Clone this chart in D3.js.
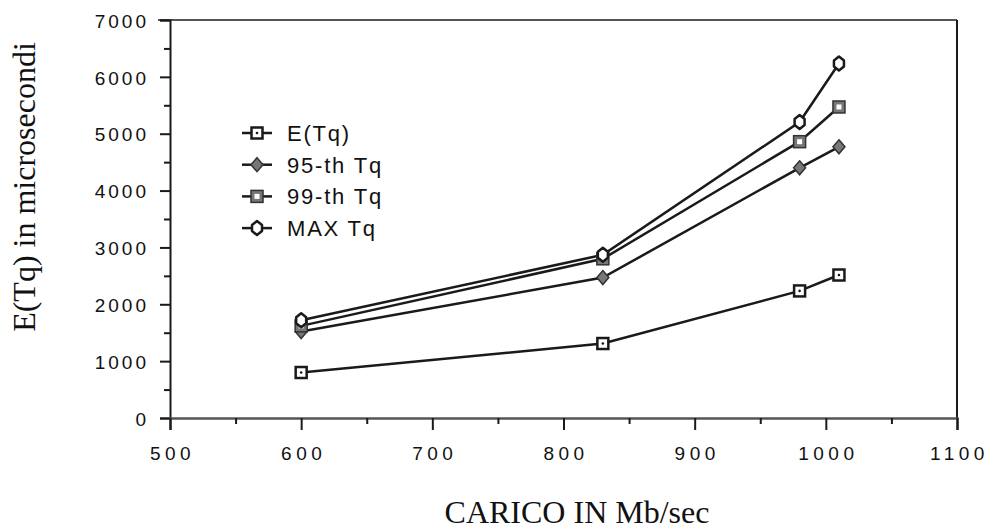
<!DOCTYPE html>
<html>
<head>
<meta charset="utf-8">
<script src="https://cdn.jsdelivr.net/npm/d3@7"></script>
<style>
  body { margin: 0; background: #fff; }
  svg { display: block; }
  .tick text { font-family: "Liberation Sans", Arial, sans-serif; font-size: 19px; fill: #111; }
  .ttl { font-family: "Liberation Serif", "Times New Roman", serif; font-size: 32px; fill: #111; }
  .leg text { font-family: "Liberation Sans", Arial, sans-serif; font-size: 22px; letter-spacing: 1.8px; fill: #111; }
</style>
</head>
<body>
<svg id="chart" width="994" height="531"></svg>
<script>
// data
var carico = [600, 830, 980, 1010];
var eTq = [800, 1310, 2235, 2515];
var p95Tq = [1520, 2470, 4400, 4770];
var p99Tq = [1620, 2800, 4860, 5470];
var maxTq = [1720, 2870, 5205, 6235];

var seriesNames = ["E(Tq)", "95-th Tq", "99-th Tq", "MAX Tq"];
var xTicks = [500, 600, 700, 800, 900, 1000, 1100];
var xMinor = [550, 650, 750, 850, 950, 1050];
var yTicks = [0, 1000, 2000, 3000, 4000, 5000, 6000, 7000];
var yMinor = [500, 1500, 2500, 3500, 4500, 5500, 6500];

var svg = d3.select("#chart");
var plotL = 170, plotR = 957, plotT = 20, plotB = 418;

var x = d3.scaleLinear().domain([500, 1100]).range([plotL, plotR]);
var y = d3.scaleLinear().domain([0, 7000]).range([plotB, plotT]);

var ink = "#1a1a1a";

// frame: top and right lines
svg.append("line").attr("x1", plotL - 12).attr("x2", plotR).attr("y1", plotT).attr("y2", plotT)
    .attr("stroke", "#555").attr("stroke-width", 2);
svg.append("line").attr("x1", plotR).attr("x2", plotR).attr("y1", plotT).attr("y2", plotB)
    .attr("stroke", ink).attr("stroke-width", 2);

// y axis
var yAxis = svg.append("g").attr("transform", "translate(" + plotL + ",0)")
    .call(d3.axisLeft(y).tickValues(yTicks).tickSize(10).tickPadding(11).tickFormat(d3.format("d")));
yAxis.select(".domain").attr("stroke", ink).attr("stroke-width", 2);
yAxis.selectAll(".tick line").attr("stroke", ink).attr("stroke-width", 2);
yAxis.selectAll(".tick text").attr("letter-spacing", "3px").attr("dy", "0.38em");

var yAxisMinor = svg.append("g").attr("transform", "translate(" + plotL + ",0)")
    .call(d3.axisLeft(y).tickValues(yMinor).tickSize(6).tickFormat(""));
yAxisMinor.select(".domain").remove();
yAxisMinor.selectAll(".tick line").attr("stroke", ink).attr("stroke-width", 2);

// x axis
var xAxis = svg.append("g").attr("transform", "translate(0," + plotB + ")")
    .call(d3.axisBottom(x).tickValues(xTicks).tickSize(12).tickPadding(17).tickFormat(d3.format("d")));
xAxis.select(".domain").attr("stroke", "#555").attr("stroke-width", 2.5);
xAxis.selectAll(".tick line").attr("stroke", ink).attr("stroke-width", 2);
xAxis.selectAll(".tick text").attr("letter-spacing", "4.5px").attr("dx", "2px");

var xAxisMinor = svg.append("g").attr("transform", "translate(0," + plotB + ")")
    .call(d3.axisBottom(x).tickValues(xMinor).tickSize(6).tickFormat(""));
xAxisMinor.select(".domain").remove();
xAxisMinor.selectAll(".tick line").attr("stroke", ink).attr("stroke-width", 2);

// titles
svg.append("text").attr("class", "ttl")
    .attr("transform", "translate(35,187) rotate(-90)")
    .attr("text-anchor", "middle")
    .text("E(Tq) in microsecondi");
svg.append("text").attr("class", "ttl")
    .attr("x", 577).attr("y", 523)
    .attr("text-anchor", "middle")
    .text("CARICO IN Mb/sec");

// marker drawing
function marker(g, kind) {
    if (kind == 0) {
        g.append("rect").attr("x", -5.5).attr("y", -5.5).attr("width", 11).attr("height", 11)
            .attr("fill", "#fff").attr("stroke", ink).attr("stroke-width", 2.5);
        g.append("circle").attr("r", 1.3).attr("fill", ink);
    } else if (kind == 1) {
        g.append("path").attr("d", "M0,-7L6,0L0,7L-6,0Z")
            .attr("fill", "#777").attr("stroke", "#333").attr("stroke-width", 1.5);
    } else if (kind == 2) {
        g.append("rect").attr("x", -6).attr("y", -6).attr("width", 12).attr("height", 12)
            .attr("fill", "#777").attr("stroke", "#333").attr("stroke-width", 1.5);
        g.append("rect").attr("x", -2.5).attr("y", -2.5).attr("width", 5).attr("height", 5)
            .attr("fill", "#fff");
    } else {
        g.append("path").attr("d", "M0,-7L5,-3L5,3L0,7L-5,3L-5,-3Z")
            .attr("fill", "#fff").attr("stroke", ink).attr("stroke-width", 2.5)
            .attr("stroke-linejoin", "round");
    }
}

var allSeries = [eTq, p95Tq, p99Tq, maxTq];
var line = d3.line().x(function(d) { return x(d[0]); }).y(function(d) { return y(d[1]); });

// lines first, then markers on top
allSeries.forEach(function(vals, k) {
    var pts = carico.map(function(c, i) { return [c, vals[i]]; });
    svg.append("path").datum(pts).attr("d", line)
        .attr("fill", "none").attr("stroke", ink).attr("stroke-width", 2.5);
});
allSeries.forEach(function(vals, k) {
    carico.forEach(function(c, i) {
        var g = svg.append("g").attr("transform", "translate(" + x(c) + "," + y(vals[i]) + ")");
        marker(g, k);
    });
});

// legend
var leg = svg.append("g").attr("class", "leg");
seriesNames.forEach(function(name, k) {
    var ry = 133 + k * 31.7;
    leg.append("line").attr("x1", 242).attr("x2", 272).attr("y1", ry).attr("y2", ry)
        .attr("stroke", ink).attr("stroke-width", 2.5);
    marker(leg.append("g").attr("transform", "translate(257," + ry + ")"), k);
    leg.append("text").attr("x", 287).attr("y", ry + 8).text(name);
});
</script>
</body>
</html>
